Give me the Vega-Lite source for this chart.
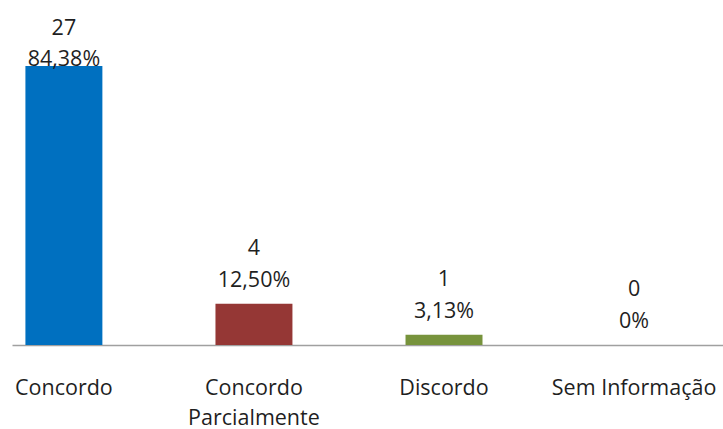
{
  "$schema": "https://vega.github.io/schema/vega-lite/v6.json",
  "width": 711,
  "height": 345,
  "autosize": {"type": "none"},
  "padding": {"left": 12, "top": 0, "right": 0, "bottom": 84},
  "background": "white",
  "config": {
    "view": {"stroke": null},
    "text": {"font": "Open Sans", "fontSize": 21.5, "color": "#1f1f1f"}
  },
  "data": {
    "values": [
      {"categoria": "Concordo", "n": 27, "pct": "84,38%"},
      {"categoria": "Concordo Parcialmente", "n": 4, "pct": "12,50%"},
      {"categoria": "Discordo", "n": 1, "pct": "3,13%"},
      {"categoria": "Sem Informação", "n": 0, "pct": "0%"}
    ]
  },
  "encoding": {
    "x": {
      "field": "categoria",
      "type": "nominal",
      "sort": null,
      "scale": {"paddingInner": 0.595, "paddingOuter": 0.168, "align": 0.21},
      "axis": {
        "title": null,
        "labelAngle": 0,
        "ticks": false,
        "tickSize": 0,
        "labelPadding": 32,
        "labelBaseline": "top",
        "labelFont": "Open Sans",
        "labelFontSize": 21.5,
        "labelColor": "#1f1f1f",
        "labelLineHeight": 30,
        "labelOverlap": false,
        "labelBound": false,
        "domainColor": "#a0a0a0",
        "domainWidth": 1.5,
        "labelExpr": "datum.label == 'Concordo Parcialmente' ? ['Concordo', 'Parcialmente'] : datum.label"
      }
    },
    "y": {
      "field": "n",
      "type": "quantitative",
      "scale": {"domain": [0, 33.39], "nice": false, "zero": true},
      "axis": null
    }
  },
  "layer": [
    {
      "mark": {"type": "bar"},
      "encoding": {
        "color": {
          "field": "categoria",
          "type": "nominal",
          "sort": null,
          "scale": {
            "domain": ["Concordo", "Concordo Parcialmente", "Discordo", "Sem Informação"],
            "range": ["#0070c0", "#953735", "#77933c", "#4f81bd"]
          },
          "legend": null
        }
      }
    },
    {
      "transform": [{"filter": "datum.n < 20"}],
      "mark": {"type": "text", "baseline": "alphabetic", "dy": -49},
      "encoding": {"text": {"field": "n", "type": "quantitative"}}
    },
    {
      "transform": [{"filter": "datum.n < 20"}],
      "mark": {"type": "text", "baseline": "alphabetic", "dy": -17},
      "encoding": {"text": {"field": "pct", "type": "nominal"}}
    },
    {
      "transform": [{"filter": "datum.n >= 20"}],
      "mark": {"type": "text", "baseline": "alphabetic", "dy": -31},
      "encoding": {"text": {"field": "n", "type": "quantitative"}}
    },
    {
      "transform": [{"filter": "datum.n >= 20"}],
      "mark": {"type": "text", "baseline": "alphabetic", "dy": 0},
      "encoding": {"text": {"field": "pct", "type": "nominal"}}
    }
  ]
}
